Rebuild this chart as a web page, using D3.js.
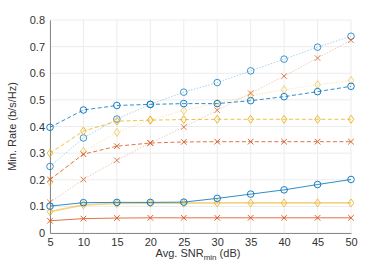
<!DOCTYPE html>
<html>
<head>
<meta charset="utf-8">
<script src="https://cdn.jsdelivr.net/npm/d3@7"></script>
<style>
  body { margin: 0; background: #fff; }
  text { font-family: "Liberation Sans", Arial, sans-serif; }
</style>
</head>
<body>
<script>
const snr = [5, 10, 15, 20, 25, 30, 35, 40, 45, 50];
const xTicks = [5, 10, 15, 20, 25, 30, 35, 40, 45, 50];
const yTicks = [0, 0.1, 0.2, 0.3, 0.4, 0.5, 0.6, 0.7, 0.8];

// blue circles
const blueDashed = [0.397, 0.462, 0.479, 0.483, 0.486, 0.486, 0.497, 0.512, 0.531, 0.551];
const blueDotted = [0.25, 0.357, 0.428, 0.483, 0.529, 0.565, 0.609, 0.653, 0.698, 0.739];
const blueSolid = [0.101, 0.114, 0.115, 0.115, 0.116, 0.13, 0.146, 0.162, 0.182, 0.201];
// orange crosses
const orangeDashed = [0.201, 0.296, 0.326, 0.338, 0.342, 0.343, 0.343, 0.343, 0.343, 0.343];
const orangeDotted = [0.115, 0.201, 0.273, 0.338, 0.398, 0.461, 0.525, 0.589, 0.657, 0.724];
const orangeSolid = [0.046, 0.054, 0.056, 0.057, 0.057, 0.057, 0.057, 0.057, 0.057, 0.057];
// yellow diamonds
const yellowDashed = [0.30, 0.383, 0.42, 0.424, 0.426, 0.427, 0.427, 0.427, 0.427, 0.427];
const yellowDotted = [0.192, 0.307, 0.378, 0.425, 0.46, 0.488, 0.516, 0.538, 0.557, 0.573];
const yellowSolid = [0.08, 0.106, 0.111, 0.112, 0.112, 0.113, 0.113, 0.113, 0.113, 0.113];

const series = [
  { vals: blueDotted, color: "#0072BD", dash: "1.5,1.5", lop: 0.35, mop: 0.75, marker: "o" },
  { vals: orangeDotted, color: "#D95319", dash: "1.5,1.5", lop: 0.35, mop: 0.75, marker: "x" },
  { vals: yellowDotted, color: "#EDB120", dash: "1.5,1.5", lop: 0.35, mop: 0.6, marker: "d" },
  { vals: yellowDashed, color: "#EDB120", dash: "4,2.5", lop: 0.9, mop: 0.9, marker: "d" },
  { vals: orangeDashed, color: "#D95319", dash: "4,2.5", lop: 0.9, mop: 0.9, marker: "x" },
  { vals: blueDashed, color: "#0072BD", dash: "4,2.5", lop: 0.9, mop: 0.9, marker: "o" },
  { vals: yellowSolid, color: "#EDB120", dash: null, lop: 0.55, mop: 0.8, marker: "d", lw: 1.8 },
  { vals: orangeSolid, color: "#D95319", dash: null, lop: 0.9, mop: 0.9, marker: "x" },
  { vals: blueSolid, color: "#0072BD", dash: null, lop: 0.9, mop: 0.9, marker: "o" }
];

const w = 388, h = 265;
const pl = 50, pr = 351, pt = 20, pb = 233;

const svg = d3.select("body").append("svg").attr("width", w).attr("height", h);

const x = d3.scaleLinear().domain([5, 50]).range([pl, pr]);
const y = d3.scaleLinear().domain([0, 0.8]).range([pb, pt]);

// grid
svg.append("g").selectAll("line")
  .data(xTicks).enter().append("line")
  .attr("x1", d => x(d)).attr("x2", d => x(d))
  .attr("y1", pt).attr("y2", pb)
  .attr("stroke", "#ececec").attr("stroke-width", 1);
svg.append("g").selectAll("line")
  .data(yTicks).enter().append("line")
  .attr("x1", pl).attr("x2", pr)
  .attr("y1", d => y(d)).attr("y2", d => y(d))
  .attr("stroke", "#ececec").attr("stroke-width", 1);

// axes
const xAxis = svg.append("g").attr("transform", "translate(0," + pb + ")")
  .call(d3.axisBottom(x).tickValues(xTicks).tickSizeInner(0).tickSizeOuter(0).tickPadding(5).tickFormat(d3.format("d")));
const yAxis = svg.append("g").attr("transform", "translate(" + pl + ",0)")
  .call(d3.axisLeft(y).tickValues(yTicks).tickSizeInner(0).tickSizeOuter(0).tickPadding(5).tickFormat(d => d === 0 ? "0" : d3.format(".1f")(d)));
[xAxis, yAxis].forEach(a => {
  a.select(".domain").attr("stroke", "#8a8a8a").attr("stroke-width", 1);
  a.selectAll(".tick line").remove();
  a.selectAll(".tick text").attr("fill", "#333").attr("font-size", "11px")
    .attr("font-family", "Liberation Sans, Arial, sans-serif");
});

// lines and markers
const line = d3.line().x((d, i) => x(snr[i])).y(d => y(d));

series.forEach(s => {
  const g = svg.append("g");
  g.append("path").datum(s.vals)
    .attr("d", line)
    .attr("fill", "none")
    .attr("stroke", s.color)
    .attr("stroke-opacity", s.lop)
    .attr("stroke-width", s.lw || 0.9)
    .attr("stroke-dasharray", s.dash);
  const m = g.selectAll("g.m").data(s.vals).enter().append("g")
    .attr("opacity", s.mop)
    .attr("transform", (d, i) => "translate(" + x(snr[i]) + "," + y(d) + ")");
  if (s.marker === "o") {
    m.append("circle").attr("r", 3.3).attr("fill", "none").attr("stroke", s.color).attr("stroke-width", 1);
  } else if (s.marker === "x") {
    m.append("path").attr("d", "M-2.8,-2.8L2.8,2.8M-2.8,2.8L2.8,-2.8").attr("stroke", s.color).attr("stroke-width", 1);
  } else {
    m.append("path").attr("d", "M0,-4L2.8,0L0,4L-2.8,0Z").attr("fill", "none").attr("stroke", s.color).attr("stroke-width", 1);
  }
});

// labels
svg.append("text")
  .attr("transform", "translate(16," + ((pt + pb) / 2) + ") rotate(-90)")
  .attr("text-anchor", "middle")
  .attr("fill", "#333").attr("font-size", "11px")
  .text("Min. Rate (b/s/Hz)");

const xl = svg.append("text")
  .attr("x", 198).attr("y", 257)
  .attr("text-anchor", "middle")
  .attr("fill", "#333").attr("font-size", "11px");
xl.append("tspan").text("Avg. SNR");
xl.append("tspan").attr("font-size", "8px").attr("dy", 3).text("min");
xl.append("tspan").attr("dy", -3).text(" (dB)");
</script>
</body>
</html>
